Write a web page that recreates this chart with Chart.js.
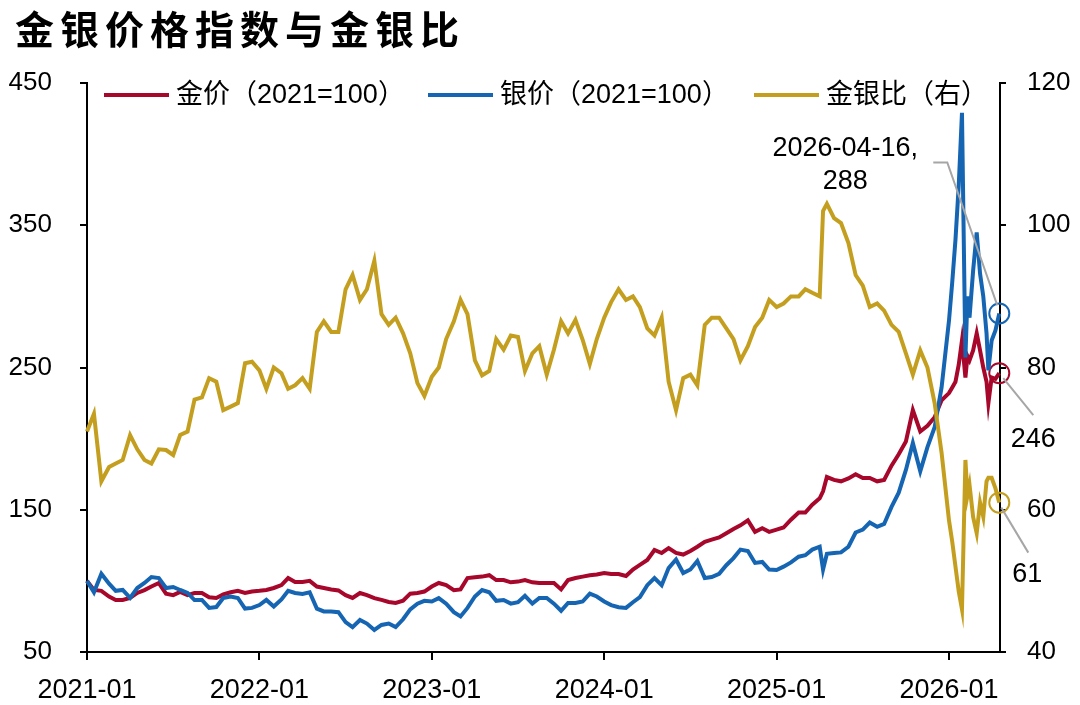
<!DOCTYPE html>
<html>
<head>
<meta charset="utf-8">
<title>金银价格指数与金银比</title>
<script src="https://cdn.jsdelivr.net/npm/chart.js@4.4.1/dist/chart.umd.min.js"></script>
<style>
  html, body { margin: 0; padding: 0; background: #fff; }
  #wrap { position: relative; width: 1080px; height: 705px; }
  #chartTitle {
    position: absolute; left: 15px; top: 8px;
    font-family: "Noto Sans CJK SC", sans-serif; font-weight: 700;
    font-size: 39px; line-height: 1; letter-spacing: 6px;
    color: #000; white-space: nowrap;
  }
  canvas { position: absolute; left: 0; top: 0; }
</style>
</head>
<body>
<div id="wrap">
  <canvas id="goldSilverChart" width="1080" height="705"></canvas>
  <div id="chartTitle">金银价格指数与金银比</div>
</div>
<script>
const dates = [
    '2021-01-01','2021-01-16','2021-02-01','2021-02-16','2021-03-01','2021-03-16','2021-04-01','2021-04-16',
    '2021-05-01','2021-05-16','2021-06-01','2021-06-16','2021-07-01','2021-07-16','2021-08-01','2021-08-16',
    '2021-09-01','2021-09-16','2021-10-01','2021-10-16','2021-11-01','2021-11-16','2021-12-01','2021-12-16',
    '2022-01-01','2022-01-16','2022-02-01','2022-02-16','2022-03-01','2022-03-16','2022-04-01','2022-04-16',
    '2022-05-01','2022-05-16','2022-06-01','2022-06-16','2022-07-01','2022-07-16','2022-08-01','2022-08-16',
    '2022-09-01','2022-09-16','2022-10-01','2022-10-16','2022-11-01','2022-11-16','2022-12-01','2022-12-16',
    '2023-01-01','2023-01-16','2023-02-01','2023-02-16','2023-03-01','2023-03-16','2023-04-01','2023-04-16',
    '2023-05-01','2023-05-16','2023-06-01','2023-06-16','2023-07-01','2023-07-16','2023-08-01','2023-08-16',
    '2023-09-01','2023-09-16','2023-10-01','2023-10-16','2023-11-01','2023-11-16','2023-12-01','2023-12-16',
    '2024-01-01','2024-01-16','2024-02-01','2024-02-16','2024-03-01','2024-03-16','2024-04-01','2024-04-16',
    '2024-05-01','2024-05-16','2024-06-01','2024-06-16','2024-07-01','2024-07-16','2024-08-01','2024-08-16',
    '2024-09-01','2024-09-16','2024-10-01','2024-10-16','2024-11-01','2024-11-16','2024-12-01','2024-12-16',
    '2025-01-01','2025-01-16','2025-02-01','2025-02-16','2025-03-01','2025-03-16','2025-04-01','2025-04-08',
    '2025-04-16','2025-05-01','2025-05-16','2025-06-01','2025-06-16','2025-07-01','2025-07-16','2025-08-01',
    '2025-08-16','2025-09-01','2025-09-16','2025-10-01','2025-10-16','2025-11-01','2025-11-16','2025-12-01',
    '2025-12-16',
    '2026-01-01','2026-01-08','2026-01-15','2026-01-22','2026-01-29','2026-02-05','2026-02-09','2026-02-13',
    '2026-02-20','2026-02-27','2026-03-06','2026-03-13','2026-03-20','2026-03-24','2026-03-31','2026-04-08',
    '2026-04-16'
];

// 金价指数 (2021=100)
const goldIndex = [
    100, 93.6, 93, 89, 86.6, 86.6, 88, 91.5, 93.5, 96, 98.5, 91, 90, 92.2, 90, 91.5, 91.5, 88.5, 88, 90.5, 92, 93, 91.5, 92.5,
    93, 93.6, 95, 97, 102, 99.2, 99.2, 100, 96, 95, 94, 93.3, 90, 88, 91.5, 90, 87.9, 86.6, 85.2, 84.5, 86, 91, 91.5, 92.5,
    96, 98.5, 97, 93.5, 94, 102, 102.5, 103, 104, 100.6, 100.6, 99, 99.5, 100.6, 99, 98.5, 98.5, 98.5, 94, 100.6, 102, 103, 104, 104.5,
    105.5, 104.8, 104.8, 103.4, 108, 111.2, 114.7, 121.7, 119.6, 123, 119.6, 118.5, 121, 124, 127.5, 129, 130.5, 133.5, 136.5, 139, 142.5, 134.5, 137, 134.5,
    136, 137.5, 143, 148, 148, 153.5, 158, 163, 173, 171, 170, 172, 175, 172.3, 172.3, 170, 171, 181, 189, 198, 220, 205, 209, 215, 227,
    232, 236, 240, 252, 269, 243, 258, 255, 262, 274, 262, 250, 240, 225, 243, 242, 246
];

// 银价指数 (2021=100)
const silverIndex = [
    100, 92, 105, 98, 93, 93.6, 88, 95, 98.5, 102.7, 102, 95, 95.7, 93.6, 91.5, 86.5, 86.6, 81, 81.6, 88, 89, 88, 80.5, 81,
    83, 86.6, 82, 87, 93, 91.5, 90.8, 92, 80.5, 78.5, 78.5, 78, 71, 67.5, 72.5, 70, 65.5, 69, 70, 67.5, 73, 80, 84, 86,
    85.5, 87.9, 84, 78, 75, 81, 89, 93.6, 92, 86, 86.6, 84, 85, 89.5, 84, 88, 88, 84, 79, 84.5, 84.5, 85.5, 91, 89,
    85.5, 83, 81.5, 81, 85, 88.6, 97, 102, 97, 109, 115, 105.5, 108, 114, 102, 102.7, 105, 111, 116, 122, 121, 112.6, 113.3, 108,
    107.6, 110, 113, 117, 118, 122, 124, 108, 119, 119.6, 120, 124, 134, 136, 141, 138, 140, 152, 162, 178, 197, 177, 194, 208, 236,
    283, 310, 340, 378, 429, 257, 300, 285, 318, 345, 316, 300, 274, 248, 269, 276, 288
];

// 金银比 (右轴)
const goldSilverRatio = [
    71, 73.5, 64, 66, 66.5, 67, 70.5, 68.5, 67, 66.5, 68.5, 68.4, 67.7, 70.5, 71, 75.5, 75.8, 78.5, 78, 74, 74.5, 75, 80.6, 80.8,
    79.6, 77, 80, 79.2, 77, 77.5, 78.5, 77, 85, 86.5, 85, 85, 91, 93, 89.5, 91, 95, 87.5, 86, 87, 84.8, 82, 77.8, 76,
    78.7, 80, 84, 86.5, 89.5, 87.5, 81, 78.9, 79.5, 84, 82.5, 84.5, 84.3, 79.5, 82, 83, 79, 82.5, 86.5, 84.8, 86.7, 83.9, 80.5, 84,
    87, 89.2, 91, 89.5, 90, 88.5, 85.5, 84.5, 87, 78, 74, 78.5, 79, 77.5, 86, 87, 87, 85.5, 84, 81, 83, 85.7, 87, 89.5,
    88.5, 89, 90, 90, 91, 90.5, 90, 102, 103, 101, 100.3, 97.5, 93, 91.5, 88.5, 89, 88, 86, 85, 82, 79, 82.4, 80, 75, 68,
    58.5, 55.5, 52, 48.5, 46, 67, 62, 63.5, 59, 56.7, 61, 59, 64, 64.5, 64.5, 63, 61
];

const xTickValues = [0, 12, 24, 36, 48, 60];
const xTickLabels = ['2021-01', '2022-01', '2023-01', '2024-01', '2025-01', '2026-01'];
const seriesNames = ['金价（2021=100）', '银价（2021=100）', '金银比（右）'];
const seriesColors = ['#A6072B', '#1565B3', '#C49F1F'];

const lastIndex = dates.length - 1;
const tickFont = { family: '"Liberation Sans", Arial, sans-serif', size: 26 };

// months since 2021-01
function monthPos(d) {
    const [y, m, day] = d.split('-').map(Number);
    const dim = new Date(y, m, 0).getDate();
    return (y - 2021) * 12 + (m - 1) + (day - 1) / dim;
}

function toPoints(values) {
    return values.map((v, i) => ({ x: monthPos(dates[i]), y: v }));
}

function makeDataset(i, values, axis, order) {
    return {
        label: seriesNames[i],
        data: toPoints(values),
        yAxisID: axis,
        order: order,
        borderColor: seriesColors[i],
        backgroundColor: seriesColors[i],
        borderWidth: 4,
        tension: 0,
        clip: false,
        pointRadius: ctx => ctx.dataIndex === lastIndex ? 10 : 0,
        pointHoverRadius: 0,
        pointBorderWidth: 2,
        pointBorderColor: seriesColors[i],
        pointBackgroundColor: 'rgba(0,0,0,0)'
    };
}

// legend drawn inside the plot, at the top
const legendStarts = [104, 428, 754];
const topLegend = {
    id: 'topLegend',
    afterDraw(chart) {
        const ctx = chart.ctx;
        ctx.save();
        ctx.font = '27px "Liberation Sans", "Noto Sans CJK SC", sans-serif';
        ctx.textBaseline = 'middle';
        ctx.textAlign = 'left';
        chart.data.datasets.forEach((ds, i) => {
            const x = legendStarts[i];
            const y = 95;
            ctx.strokeStyle = ds.borderColor;
            ctx.lineWidth = 4;
            ctx.beginPath();
            ctx.moveTo(x, y);
            ctx.lineTo(x + 65, y);
            ctx.stroke();
            ctx.fillStyle = '#000';
            ctx.fillText(ds.label, x + 72, y + 1);
        });
        ctx.restore();
    }
};

// end-of-series labels with leader lines
const endLabels = [
    { dataset: 1, lines: [dates[lastIndex] + ',', String(Math.round(silverIndex[lastIndex]))],
      leader: [[-66, -151], [-52, -151], [-2, -8]], text: [-154, -165] },
    { dataset: 0, lines: [String(Math.round(goldIndex[lastIndex]))],
      leader: [[4, 5], [34, 42]], text: [34, 66] },
    { dataset: 2, lines: [String(Math.round(goldSilverRatio[lastIndex]))],
      leader: [[2, 5], [29, 50]], text: [28, 72] }
];

const endLabelPlugin = {
    id: 'endLabels',
    afterDraw(chart) {
        const ctx = chart.ctx;
        ctx.save();
        endLabels.forEach(lab => {
            const meta = chart.getDatasetMeta(lab.dataset);
            const pt = meta.data[meta.data.length - 1];
            ctx.strokeStyle = '#A6A6A6';
            ctx.lineWidth = 2;
            ctx.beginPath();
            lab.leader.forEach(([dx, dy], k) => {
                if (k === 0) ctx.moveTo(pt.x + dx, pt.y + dy);
                else ctx.lineTo(pt.x + dx, pt.y + dy);
            });
            ctx.stroke();
            ctx.fillStyle = '#000';
            ctx.font = '27px "Liberation Sans", Arial, sans-serif';
            ctx.textAlign = 'center';
            ctx.textBaseline = 'middle';
            lab.lines.forEach((t, k) => {
                ctx.fillText(t, pt.x + lab.text[0], pt.y + lab.text[1] + k * 33);
            });
        });
        ctx.restore();
    }
};

function axisStyle(tickLength) {
    return {
        grid: { drawOnChartArea: false, drawTicks: true, tickLength: tickLength, color: '#000', lineWidth: 2 },
        border: { display: true, color: '#000', width: 2 }
    };
}

const ctx = document.getElementById('goldSilverChart').getContext('2d');
const chart = new Chart(ctx, {
    type: 'line',
    data: {
        datasets: [
            makeDataset(0, goldIndex, 'y', 3),
            makeDataset(1, silverIndex, 'y', 2),
            makeDataset(2, goldSilverRatio, 'y1', 1)
        ]
    },
    options: {
        responsive: false,
        animation: false,
        devicePixelRatio: 1,
        events: [],
        layout: { padding: { top: 83, left: 0, right: 0, bottom: 0 } },
        scales: {
            x: {
                type: 'linear',
                min: 0,
                max: 63.55,
                ...axisStyle(8),
                afterBuildTicks: scale => { scale.ticks = xTickValues.map(v => ({ value: v })); },
                afterFit: scale => { scale.height = 53; },
                ticks: {
                    autoSkip: false,
                    maxRotation: 0,
                    padding: 14,
                    color: '#000',
                    font: { family: tickFont.family, size: 27 },
                    callback: v => xTickLabels[xTickValues.indexOf(v)]
                }
            },
            y: {
                position: 'left',
                min: 50,
                max: 450,
                ...axisStyle(7),
                afterFit: scale => { scale.width = 87; },
                ticks: { stepSize: 100, padding: 28, color: '#000', font: tickFont }
            },
            y1: {
                position: 'right',
                min: 40,
                max: 120,
                ...axisStyle(6),
                afterFit: scale => { scale.width = 80; },
                ticks: { stepSize: 20, padding: 21, color: '#000', font: tickFont }
            }
        },
        plugins: {
            legend: { display: false },
            tooltip: { enabled: false }
        }
    },
    plugins: [topLegend, endLabelPlugin]
});
</script>
</body>
</html>
